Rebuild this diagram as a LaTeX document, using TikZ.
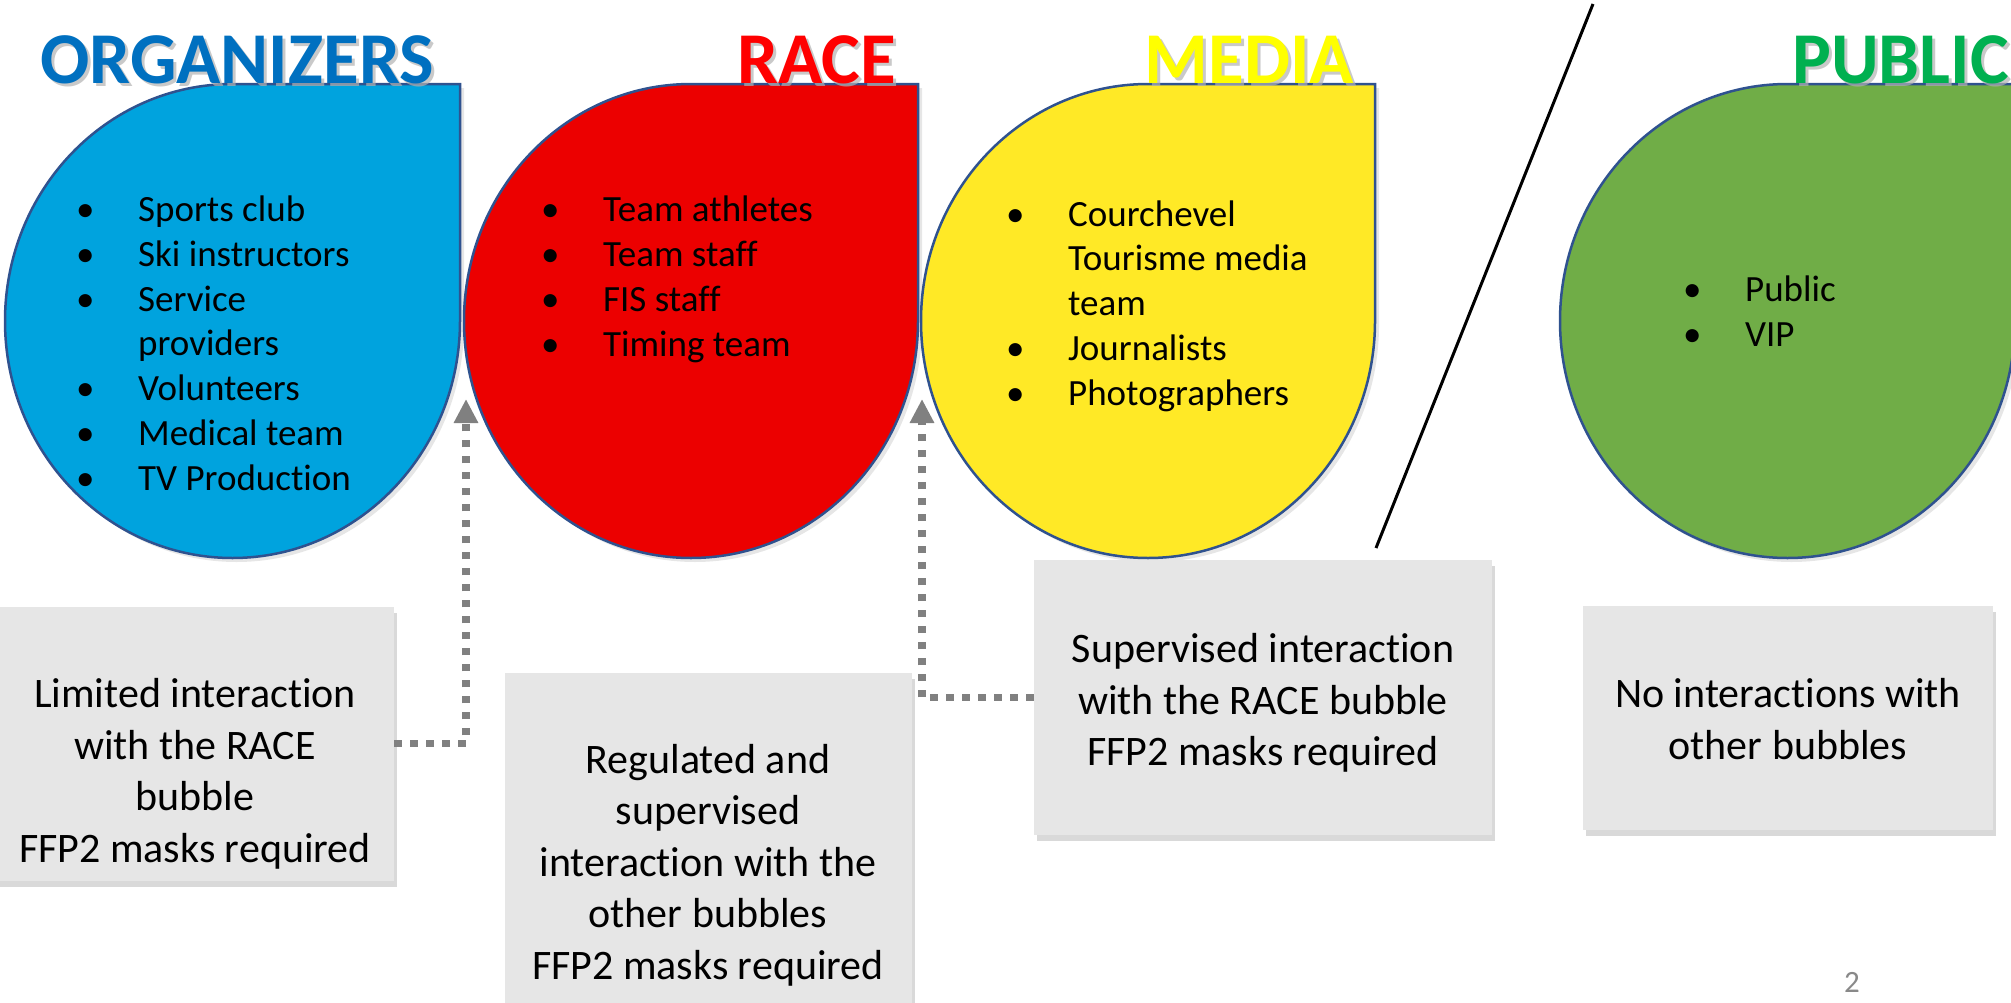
\documentclass[tikz,border=0pt]{standalone}
\usepackage{fontspec}
\setmainfont{Carlito}[Ligatures=NoCommon]
\usetikzlibrary{arrows.meta,shadows}
\definecolor{OrgClr}{RGB}{0,163,222}
\definecolor{RaceClr}{RGB}{236,0,0}
\definecolor{MediaClr}{RGB}{255,233,38}
\definecolor{PublicClr}{RGB}{112,173,71}
\definecolor{OrgTitleClr}{RGB}{0,112,192}
\definecolor{RaceTitleClr}{RGB}{255,0,0}
\definecolor{MediaTitleClr}{RGB}{255,255,0}
\definecolor{PublicTitleClr}{RGB}{0,176,80}
\definecolor{EdgeClr}{RGB}{47,82,143}
\definecolor{BoxClr}{RGB}{230,230,230}
\definecolor{LinkClr}{RGB}{128,128,128}
\definecolor{PageClr}{RGB}{137,137,137}
\newcommand\Bul{\makebox[62pt][l]{•}}
\newcommand\Ind{\hspace*{62pt}}

\begin{document}
\begin{tikzpicture}[x=1pt,y=-1pt,
  bubble/.style={draw=EdgeClr,line width=2.5pt,drop shadow={shadow xshift=4pt,shadow yshift=-4pt,opacity=.2}},
  title/.style={font=\fontsize{73}{80}\selectfont\bfseries,inner sep=0pt},
  titleshadow/.style={title,text=black!30,opacity=.7},
  items/.style={font=\fontsize{37}{44.7}\selectfont,align=left,anchor=base west,inner sep=0pt},
  infobox/.style={fill=BoxClr,inner sep=0pt,drop shadow={shadow xshift=3pt,shadow yshift=-6pt,opacity=.3}},
  infotext/.style={font=\fontsize{42}{51.5}\selectfont,align=center,inner sep=0pt},
  link/.style={draw=LinkClr,line width=7.5pt,dash pattern=on 7.5pt off 8.5pt,-{Triangle[length=24pt,width=23pt]}}]
\useasboundingbox (0,0) rectangle (2011,1002);

\draw[bubble,fill=OrgClr] (5,321) arc[start angle=180,end angle=270,x radius=227.5,y radius=237]
  -- (460,84) -- (460,321) arc[start angle=0,end angle=180,x radius=227.5,y radius=237] -- cycle;
\draw[bubble,fill=RaceClr] (464,321) arc[start angle=180,end angle=270,x radius=227,y radius=237]
  -- (918,84) -- (918,321) arc[start angle=0,end angle=180,x radius=227,y radius=237] -- cycle;
\draw[bubble,fill=MediaClr] (921,321) arc[start angle=180,end angle=270,x radius=227,y radius=237]
  -- (1375,84) -- (1375,321) arc[start angle=0,end angle=180,x radius=227,y radius=237] -- cycle;
\draw[bubble,fill=PublicClr] (1560,321) arc[start angle=180,end angle=270,x radius=227.5,y radius=237]
  -- (2015,84) -- (2015,321) arc[start angle=0,end angle=180,x radius=227.5,y radius=237] -- cycle;

\node[titleshadow,anchor=base east] (orgShadow) at (437,86) {ORGANIZERS};
\node[title,text=OrgTitleClr,anchor=base east] (orgTitle) at (434,83) {ORGANIZERS};
\node[titleshadow,anchor=base east] (raceShadow) at (899,86) {RACE};
\node[title,text=RaceTitleClr,anchor=base east] (raceTitle) at (896,83) {RACE};
\node[titleshadow,anchor=base east] (mediaShadow) at (1357,86) {MEDIA};
\node[title,text=MediaTitleClr,anchor=base east] (mediaTitle) at (1354,83) {MEDIA};
\node[titleshadow,anchor=base west] (publicShadow) at (1795,86) {PUBLIC};
\node[title,text=PublicTitleClr,anchor=base west] (publicTitle) at (1792,83) {PUBLIC};

\node[items] (orgList) at (76,490) {\Bul Sports club\\ \Bul Ski instructors\\ \Bul Service\\ \Ind providers\\
  \Bul Volunteers\\ \Bul Medical team\\ \Bul TV Production};
\node[items] (raceList) at (541,356) {\Bul Team athletes\\ \Bul Team staff\\ \Bul FIS staff\\ \Bul Timing team};
\node[items] (mediaList) at (1006,405) {\Bul Courchevel\\ \Ind Tourisme media\\ \Ind team\\ \Bul Journalists\\
  \Bul Photographers};
\node[items] (publicList) at (1683,346) {\Bul Public\\ \Bul VIP};

\draw[line width=3pt] (1593,4) -- (1376,548);

\node[infobox,minimum width=399pt,minimum height=274pt] (limitedBox) at (194.5,743.5) {};
\node[infobox,minimum width=407pt,minimum height=337pt] (regulatedBox) at (708.5,841.5) {};
\node[infobox,minimum width=458pt,minimum height=275pt] (supervisedBox) at (1263,697.5) {};
\node[infobox,minimum width=410pt,minimum height=224pt] (noneBox) at (1788,718) {};

\node[infotext] (limitedText) at (195,774) {Limited interaction\\ with the RACE\\ bubble\\ FFP2 masks required};
\node[infotext] (regulatedText) at (708,865) {Regulated and\\ supervised\\ interaction with the\\ other bubbles\\ FFP2 masks required};
\node[infotext] (supervisedText) at (1263,703) {Supervised interaction\\ with the RACE bubble\\ FFP2 masks required};
\node[infotext] (noneText) at (1788,719) {No interactions with\\ other bubbles};

\coordinate (raceTip) at (466,399);
\coordinate (mediaTip) at (922,399);
\draw[link] (limitedBox.east) -| (raceTip);
\draw[link] (supervisedBox.west) -| (mediaTip);

\node[font=\fontsize{31}{36}\selectfont,text=PageClr,anchor=base west,inner sep=0pt] (pageNo) at (1844,992) {2};
\end{tikzpicture}
\end{document}
